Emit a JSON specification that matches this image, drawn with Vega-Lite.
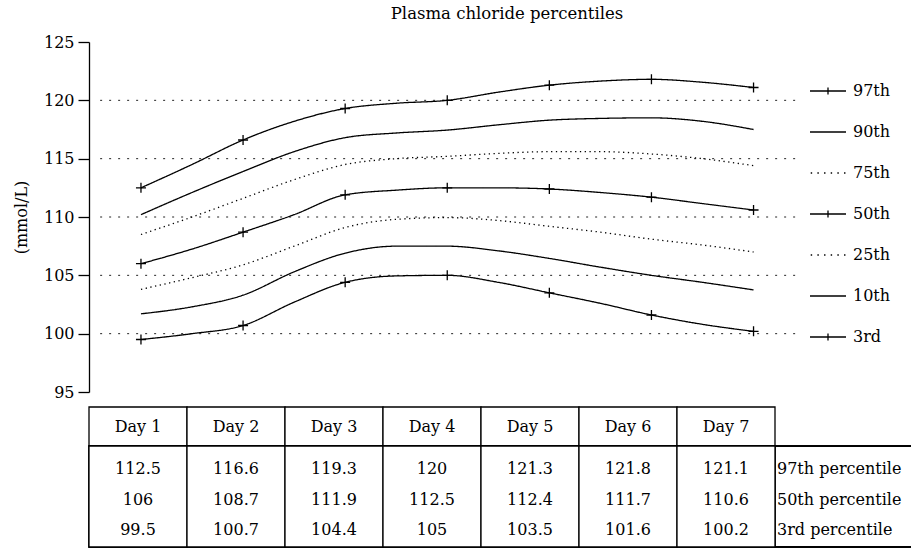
{
  "$schema": "https://vega.github.io/schema/vega-lite/v6.json",
  "background": "white",
  "padding": {"left": 13, "top": 5, "right": 0, "bottom": 0},
  "config": {"view": {"stroke": null}, "font": "DejaVu Serif"},
  "resolve": {"scale": {"shape": "independent", "strokeDash": "independent"}, "legend": {"shape": "independent", "strokeDash": "independent"}},
  "datasets": {
    "curves": [
      {"s":"97th","d":1,"v":112.5},{"s":"97th","d":1.5,"v":114.5},{"s":"97th","d":2,"v":116.6},{"s":"97th","d":2.5,"v":118.2},{"s":"97th","d":3,"v":119.3},{"s":"97th","d":3.5,"v":119.75},{"s":"97th","d":4,"v":120},{"s":"97th","d":4.5,"v":120.7},{"s":"97th","d":5,"v":121.3},{"s":"97th","d":5.5,"v":121.65},{"s":"97th","d":6,"v":121.8},{"s":"97th","d":6.5,"v":121.55},{"s":"97th","d":7,"v":121.1},
      {"s":"90th","d":1,"v":110.2},{"s":"90th","d":1.5,"v":112.1},{"s":"90th","d":2,"v":113.9},{"s":"90th","d":2.5,"v":115.6},{"s":"90th","d":3,"v":116.8},{"s":"90th","d":3.5,"v":117.2},{"s":"90th","d":4,"v":117.45},{"s":"90th","d":4.5,"v":117.9},{"s":"90th","d":5,"v":118.3},{"s":"90th","d":5.5,"v":118.45},{"s":"90th","d":6,"v":118.5},{"s":"90th","d":6.5,"v":118.2},{"s":"90th","d":7,"v":117.5},
      {"s":"75th","d":1,"v":108.5},{"s":"75th","d":1.5,"v":110.0},{"s":"75th","d":2,"v":111.6},{"s":"75th","d":2.5,"v":113.2},{"s":"75th","d":3,"v":114.5},{"s":"75th","d":3.5,"v":115.0},{"s":"75th","d":4,"v":115.2},{"s":"75th","d":4.5,"v":115.45},{"s":"75th","d":5,"v":115.6},{"s":"75th","d":5.5,"v":115.6},{"s":"75th","d":6,"v":115.4},{"s":"75th","d":6.5,"v":115.0},{"s":"75th","d":7,"v":114.4},
      {"s":"50th","d":1,"v":106},{"s":"50th","d":1.5,"v":107.25},{"s":"50th","d":2,"v":108.7},{"s":"50th","d":2.5,"v":110.2},{"s":"50th","d":3,"v":111.9},{"s":"50th","d":3.5,"v":112.3},{"s":"50th","d":4,"v":112.5},{"s":"50th","d":4.5,"v":112.5},{"s":"50th","d":5,"v":112.4},{"s":"50th","d":5.5,"v":112.1},{"s":"50th","d":6,"v":111.7},{"s":"50th","d":6.5,"v":111.15},{"s":"50th","d":7,"v":110.6},
      {"s":"25th","d":1,"v":103.8},{"s":"25th","d":1.5,"v":104.8},{"s":"25th","d":2,"v":105.9},{"s":"25th","d":2.5,"v":107.5},{"s":"25th","d":3,"v":109.1},{"s":"25th","d":3.5,"v":109.8},{"s":"25th","d":4,"v":109.95},{"s":"25th","d":4.5,"v":109.7},{"s":"25th","d":5,"v":109.2},{"s":"25th","d":5.5,"v":108.7},{"s":"25th","d":6,"v":108.1},{"s":"25th","d":6.5,"v":107.6},{"s":"25th","d":7,"v":107.0},
      {"s":"10th","d":1,"v":101.7},{"s":"10th","d":1.5,"v":102.3},{"s":"10th","d":2,"v":103.3},{"s":"10th","d":2.5,"v":105.3},{"s":"10th","d":3,"v":106.9},{"s":"10th","d":3.5,"v":107.5},{"s":"10th","d":4,"v":107.5},{"s":"10th","d":4.5,"v":107.1},{"s":"10th","d":5,"v":106.45},{"s":"10th","d":5.5,"v":105.7},{"s":"10th","d":6,"v":105.0},{"s":"10th","d":6.5,"v":104.4},{"s":"10th","d":7,"v":103.75},
      {"s":"3rd","d":1,"v":99.5},{"s":"3rd","d":1.5,"v":100.0},{"s":"3rd","d":2,"v":100.7},{"s":"3rd","d":2.5,"v":102.7},{"s":"3rd","d":3,"v":104.4},{"s":"3rd","d":3.5,"v":104.95},{"s":"3rd","d":4,"v":105.0},{"s":"3rd","d":4.5,"v":104.4},{"s":"3rd","d":5,"v":103.5},{"s":"3rd","d":5.5,"v":102.6},{"s":"3rd","d":6,"v":101.6},{"s":"3rd","d":6.5,"v":100.8},{"s":"3rd","d":7,"v":100.2}
    ],
    "table": [
      {"day":1,"label":"Day 1","s":"97th","pct":"97th percentile","v":112.5},
      {"day":2,"label":"Day 2","s":"97th","pct":"97th percentile","v":116.6},
      {"day":3,"label":"Day 3","s":"97th","pct":"97th percentile","v":119.3},
      {"day":4,"label":"Day 4","s":"97th","pct":"97th percentile","v":120},
      {"day":5,"label":"Day 5","s":"97th","pct":"97th percentile","v":121.3},
      {"day":6,"label":"Day 6","s":"97th","pct":"97th percentile","v":121.8},
      {"day":7,"label":"Day 7","s":"97th","pct":"97th percentile","v":121.1},
      {"day":1,"label":"Day 1","s":"50th","pct":"50th percentile","v":106},
      {"day":2,"label":"Day 2","s":"50th","pct":"50th percentile","v":108.7},
      {"day":3,"label":"Day 3","s":"50th","pct":"50th percentile","v":111.9},
      {"day":4,"label":"Day 4","s":"50th","pct":"50th percentile","v":112.5},
      {"day":5,"label":"Day 5","s":"50th","pct":"50th percentile","v":112.4},
      {"day":6,"label":"Day 6","s":"50th","pct":"50th percentile","v":111.7},
      {"day":7,"label":"Day 7","s":"50th","pct":"50th percentile","v":110.6},
      {"day":1,"label":"Day 1","s":"3rd","pct":"3rd percentile","v":99.5},
      {"day":2,"label":"Day 2","s":"3rd","pct":"3rd percentile","v":100.7},
      {"day":3,"label":"Day 3","s":"3rd","pct":"3rd percentile","v":104.4},
      {"day":4,"label":"Day 4","s":"3rd","pct":"3rd percentile","v":105},
      {"day":5,"label":"Day 5","s":"3rd","pct":"3rd percentile","v":103.5},
      {"day":6,"label":"Day 6","s":"3rd","pct":"3rd percentile","v":101.6},
      {"day":7,"label":"Day 7","s":"3rd","pct":"3rd percentile","v":100.2}
    ]
  },
  "bounds": "flush",
  "spacing": 15,
  "vconcat": [
    {
      "width": 716,
      "height": 350,
      "title": {"text": "Plasma chloride percentiles", "fontSize": 16.5, "fontWeight": "normal", "font": "DejaVu Serif", "color": "black", "dx": 60, "offset": 12},
      "layer": [
        {
          "data": {"values": [{"g":100},{"g":105},{"g":110},{"g":115},{"g":120}]},
          "mark": {"type": "rule", "strokeDash": [2, 7], "stroke": "#222", "strokeWidth": 1},
          "encoding": {
            "y": {"field": "g", "type": "quantitative", "scale": {"domain": [95, 125], "nice": false, "zero": false},
              "axis": {"title": "(mmol/L)", "values": [95,100,105,110,115,120,125], "grid": false, "tickSize": 11, "tickColor": "black", "tickWidth": 1.3, "domainColor": "black", "domainWidth": 1.3, "labelFont": "DejaVu Serif", "labelFontSize": 16, "labelColor": "black", "labelPadding": 4, "titleFont": "DejaVu Serif", "titleFontSize": 16, "titleFontWeight": "normal", "titleColor": "black", "titlePadding": 14}},
            "x": {"datum": 0.6, "type": "quantitative", "scale": {"domain": [0.491, 7.504], "nice": false, "zero": false}, "axis": null},
            "x2": {"datum": 7.455}
          }
        },
        {
          "data": {"name": "curves"},
          "mark": {"type": "line", "stroke": "black", "strokeWidth": 1.3, "interpolate": "monotone"},
          "encoding": {
            "x": {"field": "d", "type": "quantitative"},
            "y": {"field": "v", "type": "quantitative"},
            "detail": {"field": "s", "type": "nominal"},
            "strokeDash": {"field": "s", "type": "nominal", "scale": {"domain": ["75th","25th","97th","90th","50th","10th","3rd"], "range": [[1.3,3.5],[1.3,3.5],[1,0],[1,0],[1,0],[1,0],[1,0]]}, "legend": null}
          }
        },
        {
          "data": {"name": "table"},
          "mark": {"type": "point", "shape": "M-1,0H1M0,-1V1", "size": 100, "filled": false, "stroke": "black", "strokeWidth": 1.3, "opacity": 1},
          "encoding": {
            "x": {"field": "day", "type": "quantitative"},
            "y": {"field": "v", "type": "quantitative"}
          }
        },
        {
          "data": {"name": "curves"},
          "mark": {"type": "point", "opacity": 0, "filled": false, "stroke": "black"},
          "encoding": {
            "x": {"field": "d", "type": "quantitative"},
            "y": {"field": "v", "type": "quantitative"},
            "shape": {"field": "s", "type": "nominal",
              "scale": {"domain": ["97th","90th","75th","50th","25th","10th","3rd"],
                "range": ["M-1,0H1M0,-0.2V0.2", "M-1,0H1", "M-0.96,0h0.08M-0.59,0h0.08M-0.22,0h0.08M0.15,0h0.08M0.52,0h0.08M0.89,0h0.08", "M-1,0H1M0,-0.2V0.2", "M-0.96,0h0.08M-0.59,0h0.08M-0.22,0h0.08M0.15,0h0.08M0.52,0h0.08M0.89,0h0.08", "M-1,0H1", "M-1,0H1M0,-0.2V0.2"]},
              "legend": {"title": null, "orient": "none", "legendX": 720, "legendY": 30, "padding": 0, "symbolSize": 1296, "symbolStrokeColor": "black", "symbolFillColor": "transparent", "symbolStrokeWidth": 1.3, "symbolOpacity": 1, "labelFont": "DejaVu Serif", "labelFontSize": 16, "labelColor": "black", "labelOffset": 6, "rowPadding": 14}}
          }
        }
      ]
    },
    {
      "bounds": "flush",
      "spacing": 0,
      "vconcat": [
        {
          "width": 686,
          "height": 39,
          "data": {"name": "table"},
          "transform": [{"filter": "datum.s == '97th'"}],
          "layer": [
            {"mark": {"type": "rect", "fill": "white", "stroke": "black", "strokeWidth": 1.3},
             "encoding": {"x": {"field": "label", "type": "ordinal", "scale": {"paddingInner": 0, "paddingOuter": 0}, "axis": null}}},
            {"mark": {"type": "text", "fontSize": 16, "font": "DejaVu Serif", "color": "black"},
             "encoding": {"x": {"field": "label", "type": "ordinal"}, "text": {"field": "label", "type": "nominal"}}}
          ]
        },
        {
          "bounds": "flush",
          "spacing": 0,
          "hconcat": [
            {
              "width": 686,
              "height": 101,
              "data": {"name": "table"},
              "layer": [
                {"mark": {"type": "rect", "fill": "white", "stroke": "black", "strokeWidth": 1.3},
                 "encoding": {"x": {"field": "label", "type": "ordinal", "scale": {"paddingInner": 0, "paddingOuter": 0}, "axis": null}}},
                {"mark": {"type": "text", "fontSize": 16, "font": "DejaVu Serif", "color": "black", "dy": 3},
                 "encoding": {
                   "x": {"field": "label", "type": "ordinal"},
                   "y": {"field": "pct", "type": "nominal", "scale": {"domain": ["97th percentile","50th percentile","3rd percentile"], "padding": 0.68}, "axis": null},
                   "text": {"field": "v", "type": "nominal"}}}
              ]
            },
            {
              "width": 136,
              "height": 101,
              "data": {"name": "table"},
              "transform": [{"filter": "datum.day == 1"}],
              "layer": [
                {"mark": {"type": "rect", "fill": "transparent", "stroke": "black", "strokeWidth": 1.3, "strokeDash": [136, 101]},
                 "encoding": {}},
                {"mark": {"type": "text", "fontSize": 16, "font": "DejaVu Serif", "color": "black", "align": "left", "dx": -66, "dy": 3},
                 "encoding": {
                   "y": {"field": "pct", "type": "nominal", "scale": {"domain": ["97th percentile","50th percentile","3rd percentile"], "padding": 0.68}, "axis": null},
                   "text": {"field": "pct", "type": "nominal"}}}
              ]
            }
          ]
        }
      ]
    }
  ]
}
